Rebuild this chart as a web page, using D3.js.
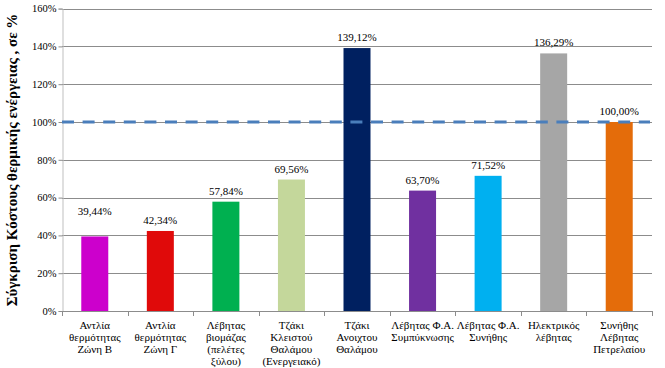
<!DOCTYPE html>
<html><head><meta charset="utf-8">
<script src="https://cdn.jsdelivr.net/npm/d3@7"></script>
<style>body{margin:0;background:#fff}svg{display:block}svg text{font-family:"Liberation Serif","Times New Roman",serif}</style>
</head><body>
<svg id="c" width="665" height="368"></svg>
<script>
const categories = [
  ["Αντλία","θερμότητας","Ζώνη Β"],
  ["Αντλία","θερμότητας","Ζώνη Γ"],
  ["Λέβητας","βιομάζας","(πελέτες","ξύλου)"],
  ["Τζάκι","Κλειστού","Θαλάμου","(Ενεργειακό)"],
  ["Τζάκι","Ανοιχτου","Θαλάμου"],
  ["Λέβητας Φ.Α.","Συμπύκνωσης"],
  ["Λέβητας Φ.Α.","Συνήθης"],
  ["Ηλεκτρικός","λέβητας"],
  ["Συνήθης","Λέβητας","Πετρελαίου"]
];
const values = [39.44, 42.34, 57.84, 69.56, 139.12, 63.70, 71.52, 136.29, 100.00];
const valueLabels = ["39,44%","42,34%","57,84%","69,56%","139,12%","63,70%","71,52%","136,29%","100,00%"];
const colors = ["#cc00cc","#e00a0a","#00b050","#c4d79b","#002060","#7030a0","#00b0f0","#a6a6a6","#e46c0a"];
const yTicks = [0,20,40,60,80,100,120,140,160];
const referenceValue = 100;
const yTitle = "Σύγκριση Κόστους θερμικής ενέργειας , σε  %";

(function(){
const svg = d3.select("#c");
const mLeft = 62, mRight = 652, mTop = 8.6, mBottom = 311;
const idx = categories.map((d,i)=>i);
const x = d3.scaleBand().domain(idx).range([mLeft,mRight]).paddingInner(0).paddingOuter(0);
const y = d3.scaleLinear().domain([0,160]).range([mBottom,mTop]);
const serif = '"Liberation Serif","Times New Roman",serif';

// gridlines
svg.append("g").selectAll("line").data(yTicks.filter(t=>t>0)).join("line")
  .attr("x1",mLeft).attr("x2",mRight).attr("y1",d=>Math.round(y(d))+0.5).attr("y2",d=>Math.round(y(d))+0.5)
  .attr("stroke","#8c8c8c").attr("stroke-width",1);

// y axis
const ya = svg.append("g").attr("transform",`translate(${mLeft+0.5},0)`)
  .call(d3.axisLeft(y).tickValues(yTicks).tickSize(4).tickFormat(d=>d+"%"));
ya.attr("font-family",null);
ya.select(".domain").attr("stroke","#bfbfbf");
ya.selectAll(".tick line").attr("stroke","#8c8c8c");
ya.selectAll("text").style("font-family",serif).style("font-size","10.5px").attr("fill","#000").attr("x",-6);

// bars
const bw = 27;
svg.append("g").selectAll("rect").data(values).join("rect")
  .attr("x",(d,i)=>x(i)+x.bandwidth()/2-bw/2)
  .attr("width",bw)
  .attr("y",d=>y(d))
  .attr("height",d=>mBottom-y(d))
  .attr("fill",(d,i)=>colors[i]);

// x axis
svg.append("line").attr("x1",mLeft).attr("x2",mRight).attr("y1",mBottom+0.5).attr("y2",mBottom+0.5).attr("stroke","#8c8c8c");
const bounds = idx.map(i=>x(i)).concat([mRight]);
svg.append("g").selectAll("line").data(bounds).join("line")
  .attr("x1",d=>Math.round(d)+0.5).attr("x2",d=>Math.round(d)+0.5)
  .attr("y1",mBottom).attr("y2",mBottom+5).attr("stroke","#8c8c8c");

// category labels
const cl = svg.append("g").selectAll("text").data(categories).join("text")
  .style("font-family",serif).style("font-size","11px").attr("fill","#000")
  .attr("text-anchor","middle");
cl.each(function(lines,i){
  const t = d3.select(this);
  lines.forEach((ln,k)=>{
    t.append("tspan").attr("x",x(i)+x.bandwidth()/2).attr("y",329+k*12).text(ln);
  });
});

// reference dashed line
svg.append("line").attr("x1",mLeft).attr("x2",mRight-2)
  .attr("y1",y(referenceValue)).attr("y2",y(referenceValue))
  .attr("stroke","#4a7ebb").attr("stroke-width",3.2).attr("stroke-dasharray","12,8.6");

// value labels
svg.append("g").selectAll("text").data(values).join("text")
  .attr("x",(d,i)=>x(i)+x.bandwidth()/2)
  .attr("y",(d,i)=>y(d)-(i===0?21:7))
  .attr("text-anchor","middle").style("font-family",serif).style("font-size","11px").attr("fill","#000")
  .text((d,i)=>valueLabels[i]);

// y title
svg.append("text").attr("transform","translate(17,160) rotate(-90)")
  .attr("text-anchor","middle").style("font-family",serif).attr("font-weight","bold")
  .style("font-size","15px").attr("fill","#000").text(yTitle);
})();
</script>
</body></html>
